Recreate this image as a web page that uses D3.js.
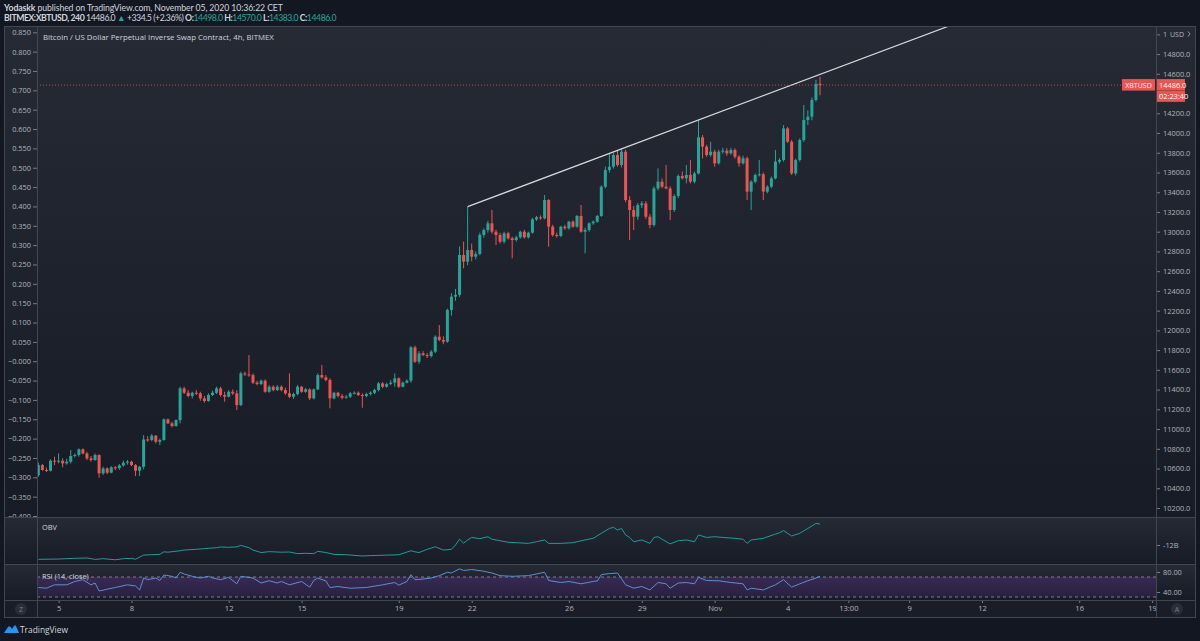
<!DOCTYPE html>
<html>
<head>
<meta charset="utf-8">
<script src="https://cdnjs.cloudflare.com/ajax/libs/d3/7.8.5/d3.min.js"></script>
<style>
  body { margin: 0; background: #131722; }
  svg { display: block; font-family: "Open Sans", sans-serif; }
</style>
</head>
<body>
<svg id="chart" width="1200" height="641"></svg>
<script>
// ---- data (XBTUSD 4h bars, first bar Oct 4 2020 04:00 UTC) ----
const opens = [
  10534, 10635, 10585, 10578, 10679, 10672, 10679, 10652, 10669, 10727,
  10737, 10794, 10753, 10703, 10686, 10737, 10551, 10601, 10558, 10612,
  10605, 10632, 10659, 10669, 10635, 10578, 10618, 10895, 10889, 10933,
  10872, 10889, 11098, 11058, 11031, 11091, 11412, 11368, 11335, 11368,
  11362, 11311, 11284, 11345, 11368, 11412, 11345, 11328, 11378, 11362,
  11243, 11564, 11554, 11547, 11470, 11456, 11490, 11378, 11429, 11395,
  11429, 11395, 11362, 11328, 11355, 11429, 11378, 11402, 11311, 11402,
  11547, 11524, 11497, 11311, 11368, 11335, 11318, 11328, 11362, 11368,
  11345, 11335, 11355, 11368, 11395, 11463, 11429, 11456, 11470, 11514,
  11429, 11470, 11490, 11828, 11683, 11767, 11750, 11740, 11784, 11936,
  11903, 11886, 12207, 12342, 12360, 12764, 12696, 12815, 12747, 12774,
  12967, 13017, 13085, 13000, 12967, 12899, 12984, 12933, 12916, 12943,
  13000, 12943, 12990, 13125, 13146, 13136, 13321, 13051, 12967, 12957,
  13051, 13034, 13102, 13051, 13159, 13000, 13017, 13085, 13102, 13159,
  13456, 13625, 13659, 13777, 13676, 13811, 13321, 13220, 13152, 13270,
  13287, 13152, 13068, 13439, 13507, 13456, 13439, 13220, 13362, 13564,
  13541, 13575, 13507, 13591, 13956, 13862, 13777, 13811, 13693, 13811,
  13821, 13794, 13828, 13760, 13693, 13744, 13406, 13507, 13575, 13582,
  13406, 13456, 13541, 13710, 13727, 14047, 13912, 13591, 13727, 13929,
  14132, 14166, 14335, 14498
];
const highs = [
  10659, 10645, 10608, 10693, 10720, 10753, 10703, 10699, 10787, 10753,
  10804, 10804, 10770, 10727, 10753, 10743, 10618, 10612, 10625, 10625,
  10645, 10679, 10686, 10679, 10645, 10625, 10939, 10929, 10949, 10939,
  10905, 11108, 11108, 11074, 11098, 11429, 11429, 11395, 11378, 11395,
  11378, 11335, 11362, 11389, 11429, 11429, 11378, 11395, 11402, 11395,
  11581, 11581, 11750, 11564, 11490, 11503, 11503, 11446, 11443, 11446,
  11443, 11419, 11564, 11368, 11446, 11436, 11416, 11412, 11412, 11564,
  11649, 11547, 11514, 11378, 11378, 11355, 11345, 11375, 11382, 11382,
  11362, 11368, 11382, 11409, 11476, 11476, 11470, 11497, 11564, 11524,
  11483, 11503, 11841, 11845, 11790, 11790, 11770, 11800, 11950, 12055,
  11940, 12220, 12376, 12420, 12850, 12899, 13254, 12880, 12800, 12990,
  13034, 13110, 13220, 13020, 12990, 13000, 13000, 12950, 12960, 13010,
  13020, 13000, 13140, 13160, 13165, 13372, 13330, 13070, 12990, 13060,
  13070, 13110, 13115, 13170, 13271, 13040, 13095, 13115, 13170, 13470,
  13660, 13794, 13800, 13828, 13840, 13830, 13360, 13260, 13290, 13310,
  13310, 13180, 13460, 13642, 13540, 13676, 13460, 13380, 13580, 13610,
  13676, 13727, 13610, 14132, 13980, 13880, 13912, 13830, 13830, 13850,
  13845, 13850, 13845, 13775, 13770, 13760, 13520, 13590, 13727, 13600,
  13470, 13560, 13828, 13745, 14081, 14060, 13930, 13740, 13945, 14284,
  14230, 14360, 14540, 14570
];
const lows = [
  10517, 10578, 10564, 10571, 10635, 10652, 10612, 10639, 10652, 10713,
  10720, 10743, 10686, 10669, 10679, 10507, 10534, 10544, 10551, 10585,
  10585, 10618, 10639, 10625, 10524, 10524, 10591, 10872, 10875, 10855,
  10838, 10882, 11051, 11017, 11024, 11058, 11355, 11321, 11311, 11345,
  11287, 11267, 11277, 11335, 11355, 11328, 11277, 11321, 11345, 11193,
  11233, 11537, 11530, 11456, 11443, 11446, 11368, 11368, 11382, 11385,
  11382, 11348, 11314, 11307, 11341, 11368, 11368, 11294, 11301, 11395,
  11510, 11483, 11210, 11301, 11321, 11301, 11307, 11314, 11352, 11335,
  11216, 11321, 11341, 11355, 11382, 11416, 11419, 11446, 11429, 11416,
  11422, 11463, 11470, 11670, 11660, 11740, 11720, 11725, 11770, 11890,
  11860, 11875, 12150, 12300, 12340, 12629, 12660, 12700, 12720, 12760,
  12940, 12990, 12980, 12865, 12880, 12880, 12920, 12730, 12900, 12930,
  12930, 12930, 12980, 13110, 13120, 13125, 12848, 12950, 12940, 12945,
  13020, 13020, 13040, 13040, 12990, 12781, 13000, 13070, 13090, 13150,
  13440, 13600, 13640, 13660, 13650, 13300, 12916, 13017, 13120, 13240,
  13130, 13034, 13050, 13420, 13440, 13430, 13118, 13200, 13340, 13530,
  13490, 13490, 13490, 13580, 13743, 13760, 13760, 13659, 13680, 13790,
  13770, 13780, 13740, 13659, 13680, 13321, 13220, 13490, 13560, 13321,
  13390, 13440, 13530, 13690, 13710, 13900, 13575, 13570, 13710, 13910,
  14081, 14130, 14320, 14383
];
const closes = [
  10635, 10585, 10578, 10679, 10672, 10679, 10652, 10669, 10727, 10737,
  10794, 10753, 10703, 10686, 10737, 10551, 10601, 10558, 10612, 10605,
  10632, 10659, 10669, 10635, 10578, 10618, 10895, 10889, 10933, 10872,
  10889, 11098, 11058, 11031, 11091, 11412, 11368, 11335, 11368, 11362,
  11311, 11284, 11345, 11368, 11412, 11345, 11328, 11378, 11362, 11243,
  11564, 11554, 11547, 11470, 11456, 11490, 11378, 11429, 11395, 11429,
  11395, 11362, 11328, 11355, 11429, 11378, 11402, 11311, 11402, 11547,
  11524, 11497, 11311, 11368, 11335, 11318, 11328, 11362, 11368, 11345,
  11335, 11355, 11368, 11395, 11463, 11429, 11456, 11470, 11514, 11429,
  11470, 11490, 11828, 11683, 11767, 11750, 11740, 11784, 11936, 11903,
  11886, 12207, 12342, 12360, 12764, 12696, 12815, 12747, 12774, 12967,
  13017, 13085, 13000, 12967, 12899, 12984, 12933, 12916, 12943, 13000,
  12943, 12990, 13125, 13146, 13136, 13321, 13051, 12967, 12957, 13051,
  13034, 13102, 13051, 13159, 13000, 13017, 13085, 13102, 13159, 13456,
  13625, 13659, 13777, 13676, 13811, 13321, 13220, 13152, 13270, 13287,
  13152, 13068, 13439, 13507, 13456, 13439, 13220, 13362, 13564, 13541,
  13575, 13507, 13591, 13956, 13862, 13777, 13811, 13693, 13811, 13821,
  13794, 13828, 13760, 13693, 13744, 13406, 13507, 13575, 13582, 13406,
  13456, 13541, 13710, 13727, 14047, 13912, 13591, 13727, 13929, 14132,
  14166, 14335, 14498, 14486
];

// OBV (billions) sampled at bar indices
const obvBar = [0, 5, 9, 12, 14, 16, 19, 21, 23, 24, 26, 28, 30, 31, 32, 35, 36, 39, 41, 44, 45, 47, 49, 50, 52, 53, 55, 57, 60, 62, 64, 66, 68, 69, 71, 73, 76, 80, 82, 86, 89, 92, 93, 94, 96, 98, 100, 102, 103, 104, 105, 106, 107, 109, 111, 112, 114, 116, 118, 121, 123, 125, 126, 129, 132, 135, 137, 139, 141, 142, 143, 144, 145, 146, 147, 149, 151, 152, 153, 154, 156, 158, 160, 162, 163, 165, 167, 169, 172, 174, 175, 176, 179, 182, 183, 184, 186, 188, 190, 192, 193];
const obvValue = [-15.98, -15.9, -15.7, -15.6, -16.0, -15.8, -16.1, -15.8, -15.7, -15.95, -14.8, -14.7, -14.6, -13.9, -14.0, -13.6, -13.4, -13.2, -13.0, -12.75, -12.55, -12.65, -12.5, -12.1, -12.75, -13.4, -14.1, -13.85, -14.0, -13.95, -14.4, -14.3, -14.4, -13.75, -14.1, -14.6, -14.7, -15.05, -14.95, -14.8, -14.7, -13.6, -13.9, -14.1, -13.2, -12.5, -13.4, -13.2, -12.0, -10.4, -11.5, -10.6, -9.9, -10.25, -9.7, -10.4, -10.8, -11.25, -11.35, -11.55, -11.1, -10.6, -11.55, -11.55, -11.35, -10.6, -10.15, -8.75, -7.4, -7.1, -7.85, -7.4, -9.2, -9.9, -11.1, -10.6, -11.55, -9.9, -9.7, -10.4, -11.7, -10.8, -10.6, -11.1, -9.2, -9.9, -9.7, -9.9, -10.15, -10.4, -11.55, -10.6, -10.15, -8.95, -8.6, -8.0, -9.5, -8.75, -7.4, -6.0, -6.2];

// RSI(14) sampled at bar indices
const rsiBar = [0, 2, 4, 7, 9, 11, 13, 14, 15, 17, 19, 22, 24, 25, 26, 27, 29, 30, 31, 33, 34, 35, 36, 38, 40, 42, 43, 45, 47, 49, 50, 53, 55, 57, 59, 60, 62, 65, 67, 68, 69, 71, 72, 74, 77, 81, 85, 88, 89, 91, 92, 93, 95, 97, 99, 101, 102, 104, 105, 107, 110, 112, 114, 117, 121, 125, 126, 129, 131, 134, 137, 138, 139, 141, 143, 145, 147, 149, 151, 153, 155, 156, 158, 160, 162, 163, 165, 168, 171, 174, 175, 176, 179, 182, 184, 186, 188, 190, 192, 193];
const rsiValue = [49, 47.6, 54.4, 54.4, 61, 64.6, 54.4, 58, 42, 45.6, 49, 54.4, 52, 44, 68, 64.6, 68, 63, 74, 71.4, 68, 79.5, 76, 71.4, 68, 71.4, 68, 64.6, 69.3, 56.4, 71.4, 68, 58, 62.5, 58, 61, 54.4, 61, 49.7, 63, 68, 62, 49, 51, 47.6, 49, 54.4, 59, 53.7, 61, 74.7, 64.6, 66, 68, 72.7, 79.5, 78, 86.3, 83, 85, 81.5, 78, 72.7, 71.4, 72.7, 79.5, 63, 59, 61, 56.4, 61, 62, 74.7, 76.8, 78, 54.4, 47.6, 51, 44.2, 59, 56.4, 47.6, 58, 59, 56.4, 69.3, 63, 62.5, 59, 56.4, 44.2, 47.6, 44.2, 54.4, 64.6, 49.7, 56.4, 62.5, 68, 71.4];

// trend line anchors
const trendDates = [Date.UTC(2020, 9, 21, 20), Date.UTC(2020, 9, 31, 8)];
const trendPrices = [13254, 14132];

// axis ticks
const priceTicks = [10200, 10400, 10600, 10800, 11000, 11200, 11400, 11600, 11800, 12000, 12200, 12400, 12600, 12800, 13000, 13200, 13400, 13600, 13800, 14000, 14200, 14600, 14800, 15000];
const leftTicks = [0.85, 0.8, 0.75, 0.7, 0.65, 0.6, 0.55, 0.5, 0.45, 0.4, 0.35, 0.3, 0.25, 0.2, 0.15, 0.1, 0.05, 0, -0.05, -0.1, -0.15, -0.2, -0.25, -0.3, -0.35, -0.4];
const timeTickDates = [
  Date.UTC(2020, 9, 5), Date.UTC(2020, 9, 8), Date.UTC(2020, 9, 12), Date.UTC(2020, 9, 15),
  Date.UTC(2020, 9, 19), Date.UTC(2020, 9, 22), Date.UTC(2020, 9, 26), Date.UTC(2020, 9, 29),
  Date.UTC(2020, 10, 1), Date.UTC(2020, 10, 4), Date.UTC(2020, 10, 6, 12), Date.UTC(2020, 10, 9),
  Date.UTC(2020, 10, 12), Date.UTC(2020, 10, 16), Date.UTC(2020, 10, 19)
];
const timeTickLabels = ["5", "8", "12", "15", "19", "22", "26", "29", "Nov", "4", "13:00", "9", "12", "16", "19"];
const obvTicks = [-12];
const rsiTicks = [80, 40];
const rsiBand = [30, 70];

const lastPrice = 14486.0;
const countdown = "02:23:40";

// ---- layout ----
const svg = d3.select("#chart");
const W = 1200, H = 641;
const frameL = 4, frameR = 1196;
const paneL = 37, paneR = 1156;
const paneTop = 26, mainBottom = 517, obvBottom = 564, rsiBottom = 600, timeBottom = 618;

const green = "#26a69a", red = "#ef5350";
const textCol = "#b2b5be", lineCol = "#434651";

const BAR = 4 * 3600e3;
const firstBar = Date.UTC(2020, 9, 4, 4);
const barTime = i => new Date(firstBar + i * BAR);

const candles = closes.map((c, i) => ({ t: barTime(i), o: opens[i], h: highs[i], l: lows[i], c }));

const x = d3.scaleUtc()
  .domain([new Date(Date.UTC(2020, 9, 5)), new Date(Date.UTC(2020, 10, 19))])
  .range([58.6, 1152.1]);

const y = d3.scaleLinear().domain([10200, 14800]).range([508, 54.1]);
const yLeft = d3.scaleLinear().domain([-0.4, 0.85]).range([516, 32.3]);
const yObv = d3.scaleLinear().domain([-16.5, -5.5]).range([561.2, 521.6]);
const yRsi = d3.scaleLinear().domain([30, 70]).range([597, 577]);

// background
svg.append("rect").attr("width", W).attr("height", H).attr("fill", "#131722");

const defs = svg.append("defs");
const grad = defs.append("linearGradient").attr("id", "paneGrad")
  .attr("x1", 0).attr("y1", 0).attr("x2", 0).attr("y2", 1);
grad.append("stop").attr("offset", "0%").attr("stop-color", "#262a35");
grad.append("stop").attr("offset", "100%").attr("stop-color", "#171b25");

const rsiGrad = defs.append("linearGradient").attr("id", "rsiGrad")
  .attr("x1", 0).attr("y1", 0).attr("x2", 0).attr("y2", 1);
rsiGrad.append("stop").attr("offset", "0%").attr("stop-color", "#3b2a5a").attr("stop-opacity", 0.9);
rsiGrad.append("stop").attr("offset", "100%").attr("stop-color", "#2a2140").attr("stop-opacity", 0.9);

[["clipMain", paneTop, mainBottom], ["clipObv", mainBottom, obvBottom], ["clipRsi", obvBottom, rsiBottom]]
  .forEach(([id, y0, y1]) => {
    defs.append("clipPath").attr("id", id).append("rect")
      .attr("x", paneL).attr("y", y0).attr("width", paneR - paneL).attr("height", y1 - y0);
  });
defs.append("clipPath").attr("id", "clipLeftAxis").append("rect")
  .attr("x", frameL).attr("y", paneTop).attr("width", paneL - frameL).attr("height", mainBottom - paneTop);
// the top price label sits under the USD badge, only its first digit shows
defs.append("clipPath").attr("id", "clipRightAxis").append("rect")
  .attr("x", paneR).attr("y", 40).attr("width", frameR - paneR).attr("height", mainBottom - 40);
defs.append("clipPath").attr("id", "clipTopTick").append("rect")
  .attr("x", paneR).attr("y", paneTop).attr("width", 10).attr("height", 14);

// pane backgrounds
[[paneTop, mainBottom], [mainBottom, obvBottom], [obvBottom, rsiBottom]].forEach(([y0, y1]) => {
  svg.append("rect").attr("x", frameL).attr("y", y0).attr("width", frameR - frameL).attr("height", y1 - y0)
    .attr("fill", "url(#paneGrad)");
});
svg.append("rect").attr("x", frameL).attr("y", rsiBottom).attr("width", frameR - frameL)
  .attr("height", timeBottom - rsiBottom).attr("fill", "#1a1d27");

// ---- header ----
const header = svg.append("g").style("font-family", "Lato, sans-serif").style("font-size", "8.7px");
header.append("text").attr("x", 4).attr("y", 10.5).attr("fill", "#d1d4dc")
  .style("letter-spacing", "-0.1px")
  .call(t => {
    t.append("tspan").attr("font-weight", "bold").text("Yodaskk");
    t.append("tspan").text(" published on TradingView.com, November 05, 2020 10:36:22 CET");
  });
const fmt1 = d3.format(".1f");
const last = candles[candles.length - 1];
header.append("text").attr("x", 4).attr("y", 21).attr("fill", "#d1d4dc")
  .style("letter-spacing", "-0.45px")
  .call(t => {
    t.append("tspan").attr("font-weight", "bold").text("BITMEX:XBTUSD, 240");
    t.append("tspan").text(" " + fmt1(lastPrice) + " ");
    t.append("tspan").attr("fill", green).text("▲");
    t.append("tspan").text(" +334.5 (+2.36%)");
    [["O:", last.o], ["H:", last.h], ["L:", last.l], ["C:", last.c]].forEach(([k, v]) => {
      t.append("tspan").attr("font-weight", "bold").text(" " + k);
      t.append("tspan").attr("fill", green).text(fmt1(v));
    });
  });

// ---- main pane ----
svg.append("text").attr("x", 43).attr("y", 39.5).attr("fill", "#d1d4dc")
  .style("font-size", "7.8px")
  .text("Bitcoin / US Dollar Perpetual Inverse Swap Contract, 4h, BITMEX");

// right price axis
const styleAxis = g => {
  g.select(".domain").remove();
  g.selectAll("line").attr("stroke", "#787b86");
  g.selectAll("text").attr("fill", textCol).style("font-size", "7.4px").style("font-family", "Open Sans");
};
const priceAxis = d3.axisRight(y).tickFormat(fmt1).tickSize(4).tickPadding(3);
svg.append("g").attr("clip-path", "url(#clipRightAxis)")
  .append("g").attr("transform", `translate(${paneR},0)`)
  .call(priceAxis.tickValues(priceTicks.filter(d => d < 15000))).call(styleAxis);
svg.append("g").attr("clip-path", "url(#clipTopTick)")
  .append("g").attr("transform", `translate(${paneR},0)`)
  .call(priceAxis.tickValues(priceTicks.filter(d => d >= 15000))).call(styleAxis);

// left axis
const leftFmt = d => (d <= 0 ? "−" : "") + Math.abs(d).toFixed(3);
svg.append("g").attr("clip-path", "url(#clipLeftAxis)")
  .append("g").attr("transform", `translate(${paneL},0)`)
  .call(d3.axisLeft(yLeft).tickValues(leftTicks).tickFormat(leftFmt).tickSize(4).tickPadding(2))
  .call(styleAxis);

// candles
const gCandles = svg.append("g").attr("clip-path", "url(#clipMain)");
gCandles.selectAll("line.wick").data(candles).join("line")
  .attr("class", "wick")
  .attr("x1", d => x(d.t)).attr("x2", d => x(d.t))
  .attr("y1", d => y(d.h)).attr("y2", d => y(d.l))
  .attr("stroke", d => d.c >= d.o ? green : red)
  .attr("stroke-width", 1);
gCandles.selectAll("rect.body").data(candles).join("rect")
  .attr("class", "body")
  .attr("x", d => x(d.t) - 1.5)
  .attr("width", 3)
  .attr("y", d => y(Math.max(d.o, d.c)))
  .attr("height", d => Math.max(1, Math.abs(y(d.o) - y(d.c))))
  .attr("fill", d => d.c >= d.o ? green : red);

// trend line
const p0 = [x(new Date(trendDates[0])), y(trendPrices[0])];
const p1 = [x(new Date(trendDates[1])), y(trendPrices[1])];
const slope = (p1[1] - p0[1]) / (p1[0] - p0[0]);
gCandles.append("line")
  .attr("x1", p0[0]).attr("y1", p0[1])
  .attr("x2", paneR).attr("y2", p0[1] + slope * (paneR - p0[0]))
  .attr("stroke", "#d6d8de").attr("stroke-width", 1.2);

// last price line
svg.append("line")
  .attr("x1", paneL).attr("x2", paneR)
  .attr("y1", y(lastPrice)).attr("y2", y(lastPrice))
  .attr("stroke", red).attr("stroke-width", 0.8).attr("stroke-dasharray", "1,2");

// USD badge
svg.append("text").attr("x", 1170).attr("y", 36.5).attr("fill", textCol).style("font-size", "7px").text("USD");
svg.append("path").attr("d", "M1188,31.5 l2,2.5 l-2,2.5").attr("fill", "none").attr("stroke", textCol).attr("stroke-width", 0.8);

// price labels
const yl = y(lastPrice);
svg.append("rect").attr("x", 1122).attr("y", yl - 6).attr("width", 33).attr("height", 11.5).attr("fill", red);
svg.append("text").attr("x", 1138.5).attr("y", yl + 2.5).attr("text-anchor", "middle").attr("fill", "#fff")
  .style("font-size", "7px").text("XBTUSD");
svg.append("rect").attr("x", paneR + 1).attr("y", yl - 6).attr("width", 28).attr("height", 11.5).attr("fill", red);
svg.append("text").attr("x", paneR + 3).attr("y", yl + 2.5).attr("fill", "#fff")
  .style("font-size", "7.4px").text(fmt1(lastPrice));
svg.append("rect").attr("x", paneR + 1).attr("y", yl + 5.8).attr("width", 28).attr("height", 11).attr("fill", red);
svg.append("text").attr("x", paneR + 3).attr("y", yl + 14).attr("fill", "#fff")
  .style("font-size", "7.4px").text(countdown);

// ---- OBV pane ----
const obvPts = obvBar.map((b, i) => ({ t: barTime(b), v: obvValue[i] }));
svg.append("path").datum(obvPts).attr("clip-path", "url(#clipObv)")
  .attr("d", d3.line().x(d => x(d.t)).y(d => yObv(d.v)))
  .attr("fill", "none").attr("stroke", "#1f9c9c").attr("stroke-width", 1);
svg.append("text").attr("x", 42).attr("y", 530).attr("fill", "#d1d4dc").style("font-size", "7.4px").text("OBV");
svg.append("g").attr("transform", `translate(${paneR},0)`)
  .call(d3.axisRight(yObv).tickValues(obvTicks).tickFormat(d => `${d}B`).tickSize(4).tickPadding(3))
  .call(styleAxis);

// ---- RSI pane ----
svg.append("rect").attr("x", paneL).attr("width", paneR - paneL)
  .attr("y", yRsi(rsiBand[1])).attr("height", yRsi(rsiBand[0]) - yRsi(rsiBand[1]))
  .attr("fill", "url(#rsiGrad)");
rsiBand.forEach(v => {
  svg.append("line").attr("x1", paneL).attr("x2", paneR).attr("y1", yRsi(v)).attr("y2", yRsi(v))
    .attr("stroke", "#9598a1").attr("stroke-width", 0.8).attr("stroke-dasharray", "3,3");
});
const rsiPts = rsiBar.map((b, i) => ({ t: barTime(b), v: rsiValue[i] }));
svg.append("path").datum(rsiPts).attr("clip-path", "url(#clipRsi)")
  .attr("d", d3.line().x(d => x(d.t)).y(d => yRsi(d.v)))
  .attr("fill", "none").attr("stroke", "#5b8fd0").attr("stroke-width", 1);
svg.append("text").attr("x", 42).attr("y", 579).attr("fill", "#d1d4dc").style("font-size", "7.4px").text("RSI (14, close)");
svg.append("g").attr("transform", `translate(${paneR},0)`)
  .call(d3.axisRight(yRsi).tickValues(rsiTicks).tickFormat(d3.format(".2f")).tickSize(4).tickPadding(3))
  .call(styleAxis);

// ---- time axis ----
svg.append("g").attr("transform", `translate(0,${rsiBottom})`)
  .call(d3.axisBottom(x).tickValues(timeTickDates.map(d => new Date(d)))
    .tickFormat((d, i) => timeTickLabels[i]).tickSize(3).tickPadding(3))
  .call(styleAxis)
  .selectAll("text").style("font-size", "7.6px");

// ---- frame lines ----
const frame = svg.append("g").attr("stroke", lineCol).attr("stroke-width", 1).attr("fill", "none");
frame.append("rect").attr("x", frameL + 0.5).attr("y", paneTop + 0.5)
  .attr("width", frameR - frameL - 1).attr("height", timeBottom - paneTop - 1);
[mainBottom, obvBottom, rsiBottom].forEach(v => {
  frame.append("line").attr("x1", frameL).attr("x2", frameR).attr("y1", v + 0.5).attr("y2", v + 0.5);
});
[paneL, paneR].forEach(v => {
  frame.append("line").attr("x1", v + 0.5).attr("x2", v + 0.5).attr("y1", paneTop).attr("y2", timeBottom);
});

// corner buttons
[[21, "Z"], [1177, "A"]].forEach(([cx, s]) => {
  svg.append("circle").attr("cx", cx).attr("cy", 609).attr("r", 6).attr("fill", "#2a2e39");
  svg.append("text").attr("x", cx).attr("y", 611.5).attr("text-anchor", "middle")
    .attr("fill", "#787b86").style("font-size", "7px").text(s);
});

// TradingView logo
const logo = svg.append("g").attr("transform", "translate(4,624)");
logo.append("path")
  .attr("d", "M0,9 L4,3 Q5,1.5 6.5,3 L8,5 L10,2 Q11,0.5 12,2 L15,9 Z")
  .attr("fill", "#2196f3");
svg.append("text").attr("x", 20).attr("y", 633).attr("fill", "#d1d4dc").style("font-size", "8.4px").text("TradingView");
</script>
</body>
</html>
